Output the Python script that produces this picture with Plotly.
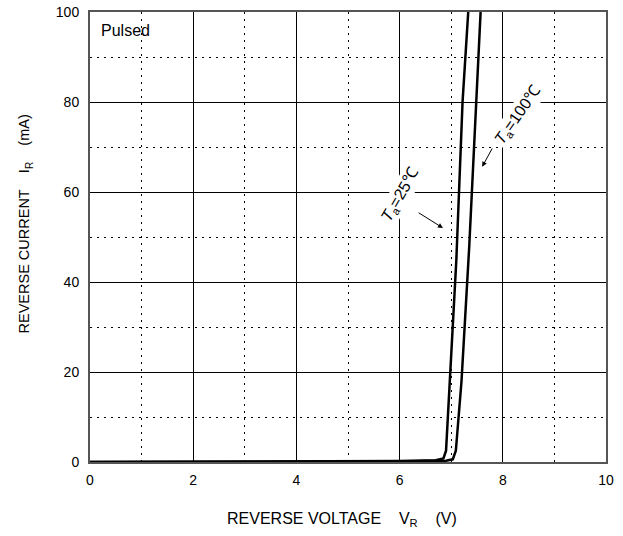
import plotly.graph_objects as go

# Data
v_25 = [0, 2, 4, 6, 6.7, 6.85, 6.9, 6.97, 7.1, 7.22, 7.33]
i_25 = [0, 0.05, 0.1, 0.25, 0.4, 0.8, 2.5, 18, 45, 80, 100]
v_100 = [0, 2, 4, 6, 6.9, 7.03, 7.09, 7.2, 7.35, 7.48, 7.57]
i_100 = [0, 0, 0.05, 0.1, 0.3, 0.6, 2.5, 18, 48, 80, 100]

x_ticks = [0, 2, 4, 6, 8, 10]
y_ticks = [0, 20, 40, 60, 80, 100]

FONT = "Liberation Sans, Arial, sans-serif"
NB = "\u00a0"
DOT = "2px,5px"

fig = go.Figure()
fig.add_trace(go.Scatter(x=v_25, y=i_25, mode="lines",
                         line=dict(color="black", width=2.5), showlegend=False,
                         hoverinfo="skip"))
fig.add_trace(go.Scatter(x=v_100, y=i_100, mode="lines",
                         line=dict(color="black", width=2.5), showlegend=False,
                         hoverinfo="skip"))

axis_common = dict(
    showline=True, linecolor="#555555", linewidth=2, mirror=True,
    showgrid=True, gridcolor="black", gridwidth=1,
    zeroline=False, ticks="", automargin=False,
    tickfont=dict(family=FONT, size=14, color="black"),
)

fig.update_xaxes(range=[0, 10], tickvals=x_ticks, ticklabelstandoff=4,
                 minor=dict(dtick=1, showgrid=True, gridcolor="black",
                            griddash=DOT, gridwidth=1),
                 **axis_common)
fig.update_yaxes(range=[0, 100], tickvals=y_ticks, ticklabelstandoff=6,
                 minor=dict(dtick=10, showgrid=True, gridcolor="black",
                            griddash=DOT, gridwidth=1),
                 **axis_common)

tfont = dict(family=FONT, size=16, color="black")
anns = [
    dict(x=0.018, y=0.982, xref="paper", yref="paper", text="Pulsed", showarrow=False,
         xanchor="left", yanchor="top", font=tfont),
    dict(x=0.489, y=-0.127, xref="paper", yref="paper",
         text="REVERSE VOLTAGE" + NB * 4 + "V<sub>R</sub>" + NB * 4 + "(V)",
         showarrow=False, xanchor="center", yanchor="middle", font=tfont),
    dict(x=-0.126, y=0.53, xref="paper", yref="paper", textangle=-90,
         text="REVERSE CURRENT" + NB * 4 + "I<sub>R</sub>" + NB * 4 + "(mA)",
         showarrow=False, xanchor="center", yanchor="middle",
         font=dict(family=FONT, size=14.5, color="black")),
    dict(x=6.01, y=59.3, text="<i>T</i><sub>a</sub>=25℃", showarrow=False, textangle=-60,
         bgcolor="white", font=tfont),
    dict(x=8.29, y=77.1, text="<i>T</i><sub>a</sub>=100℃", showarrow=False, textangle=-55,
         bgcolor="white", font=tfont),
    dict(x=6.84, y=52.0, ax=6.34, ay=55.6, axref="x", ayref="y", text="", showarrow=True,
         arrowhead=2, arrowsize=1, arrowwidth=1, arrowcolor="black"),
    dict(x=7.60, y=65.6, ax=7.81, ay=70.0, axref="x", ayref="y", text="", showarrow=True,
         arrowhead=2, arrowsize=1, arrowwidth=1, arrowcolor="black"),
]
fig.update_layout(
    width=623, height=536,
    margin=dict(l=90, r=17, t=12, b=74),
    plot_bgcolor="white", paper_bgcolor="white",
    annotations=anns,
    hovermode=False,
    font=dict(family=FONT, size=14, color="black"),
)

fig.write_html("out.html", config={"displayModeBar": False},
               post_script="document.body.style.margin='0';document.body.style.padding='0';")
